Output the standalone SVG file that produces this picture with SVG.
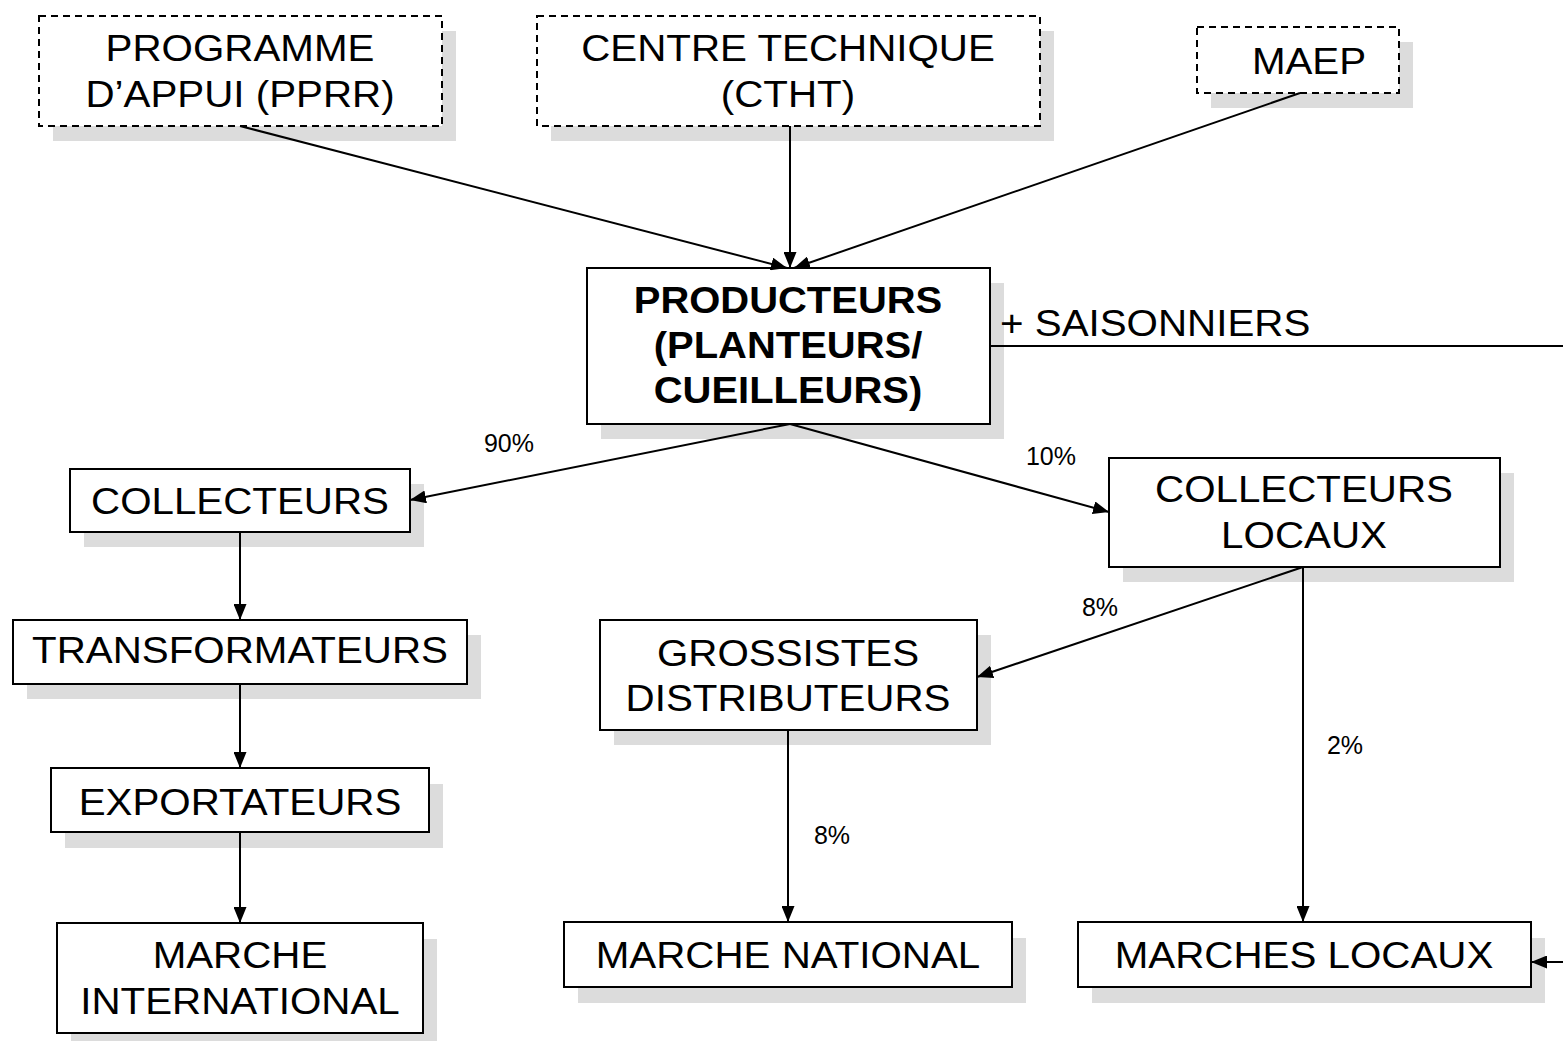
<svg xmlns="http://www.w3.org/2000/svg" width="1563" height="1041" viewBox="0 0 1563 1041">
<defs>
<style>
.shadow{fill:#dcdcdc;stroke:none}
.box{fill:#fff;stroke:#000;stroke-width:2}
.dash{fill:#fff;stroke:#000;stroke-width:2;stroke-dasharray:7 5}
.t{font-family:"Liberation Sans",Arial,sans-serif;font-size:37px;fill:#000;text-anchor:middle}
.b{font-weight:bold}
.p{font-family:"Liberation Sans",Arial,sans-serif;font-size:25px;fill:#000;text-anchor:middle}
.c{stroke:#000;stroke-width:2;fill:none}
</style>
<marker id="ah" viewBox="0 0 16 13" refX="16" refY="6.5" markerWidth="16" markerHeight="13" markerUnits="userSpaceOnUse" orient="auto">
<path d="M0,0 L16,6.5 L0,13 z" fill="#000"/>
</marker>
</defs>
<rect width="1563" height="1041" fill="#fff"/>

<g id="pprr">
<rect class="shadow" x="53" y="31" width="403" height="110"/>
<rect class="dash" x="39" y="16" width="403" height="110"/>
<text class="t" transform="translate(240 61) scale(1.09 1)">PROGRAMME</text>
<text class="t" transform="translate(240 107) scale(1.09 1)">D’APPUI (PPRR)</text>
</g>
<g id="ctht">
<rect class="shadow" x="551" y="31" width="503" height="110"/>
<rect class="dash" x="537" y="16" width="503" height="110"/>
<text class="t" transform="translate(788 61) scale(1.09 1)">CENTRE TECHNIQUE</text>
<text class="t" transform="translate(788 107) scale(1.09 1)">(CTHT)</text>
</g>
<g id="maep">
<rect class="shadow" x="1211" y="42" width="202" height="66"/>
<rect class="dash" x="1197" y="27" width="202" height="66"/>
<text class="t" transform="translate(1309 74) scale(1.09 1)">MAEP</text>
</g>
<g id="producteurs">
<rect class="shadow" x="601" y="283" width="403" height="156"/>
<rect class="box" x="587" y="268" width="403" height="156"/>
<text class="t b" transform="translate(788 313) scale(1.08 1)">PRODUCTEURS</text>
<text class="t b" transform="translate(788 358) scale(1.08 1)">(PLANTEURS/</text>
<text class="t b" transform="translate(788 403) scale(1.08 1)">CUEILLEURS)</text>
</g>
<g id="collecteurs">
<rect class="shadow" x="84" y="484" width="340" height="63"/>
<rect class="box" x="70" y="469" width="340" height="63"/>
<text class="t" transform="translate(240 514) scale(1.09 1)">COLLECTEURS</text>
</g>
<g id="collecteurs-locaux">
<rect class="shadow" x="1123" y="473" width="391" height="109"/>
<rect class="box" x="1109" y="458" width="391" height="109"/>
<text class="t" transform="translate(1304 502) scale(1.09 1)">COLLECTEURS</text>
<text class="t" transform="translate(1304 548) scale(1.09 1)">LOCAUX</text>
</g>
<g id="transformateurs">
<rect class="shadow" x="27" y="635" width="454" height="64"/>
<rect class="box" x="13" y="620" width="454" height="64"/>
<text class="t" transform="translate(240 663) scale(1.09 1)">TRANSFORMATEURS</text>
</g>
<g id="grossistes">
<rect class="shadow" x="614" y="635" width="377" height="110"/>
<rect class="box" x="600" y="620" width="377" height="110"/>
<text class="t" transform="translate(788 666) scale(1.09 1)">GROSSISTES</text>
<text class="t" transform="translate(788 711) scale(1.09 1)">DISTRIBUTEURS</text>
</g>
<g id="exportateurs">
<rect class="shadow" x="65" y="784" width="378" height="64"/>
<rect class="box" x="51" y="768" width="378" height="64"/>
<text class="t" transform="translate(240 815) scale(1.09 1)">EXPORTATEURS</text>
</g>
<g id="marche-international">
<rect class="shadow" x="71" y="939" width="366" height="110"/>
<rect class="box" x="57" y="923" width="366" height="110"/>
<text class="t" transform="translate(240 968) scale(1.09 1)">MARCHE</text>
<text class="t" transform="translate(240 1014) scale(1.09 1)">INTERNATIONAL</text>
</g>
<g id="marche-national">
<rect class="shadow" x="578" y="938" width="448" height="65"/>
<rect class="box" x="564" y="922" width="448" height="65"/>
<text class="t" transform="translate(788 968) scale(1.09 1)">MARCHE NATIONAL</text>
</g>
<g id="marches-locaux">
<rect class="shadow" x="1092" y="938" width="453" height="65"/>
<rect class="box" x="1078" y="922" width="453" height="65"/>
<text class="t" transform="translate(1304 968) scale(1.09 1)">MARCHES LOCAUX</text>
</g>

<g id="connectors">
<line class="c" x1="240" y1="126" x2="787" y2="268" marker-end="url(#ah)"/>
<line class="c" x1="790" y1="126" x2="790" y2="268" marker-end="url(#ah)"/>
<line class="c" x1="1300" y1="93" x2="794" y2="268" marker-end="url(#ah)"/>
<line class="c" x1="790" y1="424" x2="410" y2="500" marker-end="url(#ah)"/>
<line class="c" x1="790" y1="424" x2="1109" y2="512" marker-end="url(#ah)"/>
<line class="c" x1="990" y1="346" x2="1563" y2="346"/>
<line class="c" x1="1563" y1="962" x2="1531" y2="962" marker-end="url(#ah)"/>
<line class="c" x1="240" y1="532" x2="240" y2="620" marker-end="url(#ah)"/>
<line class="c" x1="240" y1="684" x2="240" y2="768" marker-end="url(#ah)"/>
<line class="c" x1="240" y1="832" x2="240" y2="923" marker-end="url(#ah)"/>
<line class="c" x1="1303" y1="567" x2="977" y2="677" marker-end="url(#ah)"/>
<line class="c" x1="1303" y1="567" x2="1303" y2="922" marker-end="url(#ah)"/>
<line class="c" x1="788" y1="730" x2="788" y2="922" marker-end="url(#ah)"/>
</g>

<g id="labels">
<text class="t" transform="translate(1000 336) scale(1.09 1)" style="text-anchor:start">+ SAISONNIERS</text>
<text class="p" x="509" y="452">90%</text>
<text class="p" x="1051" y="465">10%</text>
<text class="p" x="1100" y="616">8%</text>
<text class="p" x="1345" y="754">2%</text>
<text class="p" x="832" y="844">8%</text>
</g>
</svg>
